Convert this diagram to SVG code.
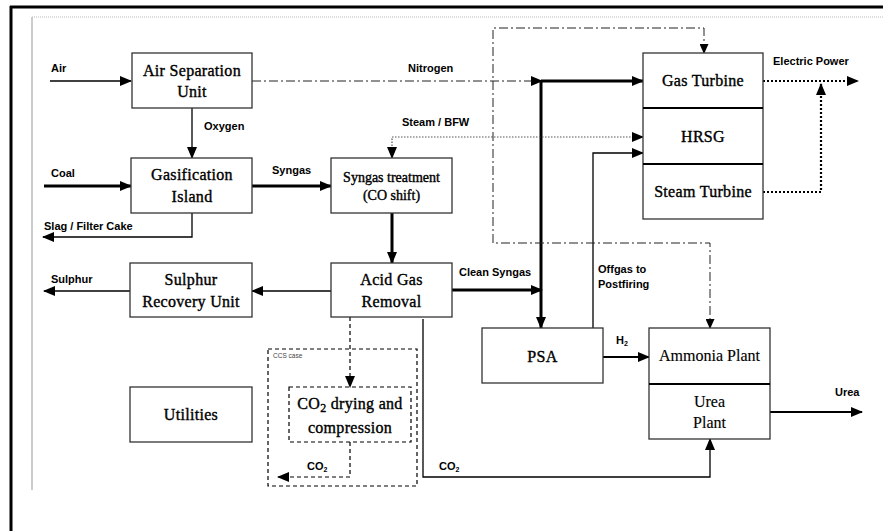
<svg xmlns="http://www.w3.org/2000/svg" width="883" height="531" viewBox="0 0 883 531">
<style>
.box{fill:#fff;stroke:#333;stroke-width:1.3}
.dbox{fill:none;stroke:#000;stroke-width:1.2;stroke-dasharray:4,3}
.rt{font-family:"Liberation Serif","Times New Roman",serif;font-size:16px;fill:#000;stroke:#000;stroke-width:0.15;text-anchor:middle}
.lb{font-family:"Liberation Sans",Arial,sans-serif;font-weight:bold;font-size:11px;fill:#000}
.ln{fill:none;stroke:#000}
.t1{stroke-width:1.3}
.t2{stroke-width:2}
.t3{stroke-width:3}
.dd{stroke:#222;stroke-width:1;stroke-dasharray:9,3,2,3}
.dt{stroke:#555;stroke-width:1.2;stroke-dasharray:1.5,1.5}
.dtb{stroke:#000;stroke-width:2.2;stroke-dasharray:2,2}
.ds{stroke:#000;stroke-width:1.2;stroke-dasharray:4,3}
</style>
<defs>
<marker id="ah" viewBox="0 0 12 10" refX="11" refY="5" markerWidth="12" markerHeight="10" markerUnits="userSpaceOnUse" orient="auto-start-reverse"><path d="M0,0L12,5L0,10z" fill="#000"/></marker>
<marker id="as" viewBox="0 0 10 9" refX="9" refY="4.5" markerWidth="10" markerHeight="9" markerUnits="userSpaceOnUse" orient="auto-start-reverse"><path d="M0,0L10,4.5L0,9z" fill="#000"/></marker>
</defs>

<g id="frame">
<line x1="10" y1="7" x2="883" y2="7" stroke="#000" stroke-width="3"/>
<line x1="11" y1="6" x2="11" y2="531" stroke="#000" stroke-width="3"/>
<line x1="32" y1="17" x2="883" y2="17" stroke="#bbb" stroke-width="1" stroke-dasharray="1,1"/>
<line x1="32" y1="17" x2="32" y2="490" stroke="#bbb" stroke-width="1.5"/>
</g>

<g id="connectors">
<path class="ln t1" d="M50,81H131" marker-end="url(#ah)"/>
<path class="ln t1" d="M192,108V158" marker-end="url(#ah)"/>
<path class="ln t3" d="M44,186H131" marker-end="url(#ah)"/>
<path class="ln t1" d="M192,213V237H43" marker-end="url(#ah)"/>
<path class="ln t3" d="M252,186H331" marker-end="url(#ah)"/>
<path class="ln t3" d="M392,213V263" marker-end="url(#ah)"/>
<path class="ln t1" d="M331,291H252" marker-end="url(#ah)"/>
<path class="ln t1" d="M130,291H44" marker-end="url(#ah)"/>
<path class="ln t3" d="M452,290H542" marker-end="url(#ah)"/>
<path class="ln dd" d="M252,81H542" marker-end="url(#ah)"/>
<path class="ln t3" d="M541,81H643" marker-end="url(#ah)"/>
<path class="ln t3" d="M541,80V328" marker-end="url(#ah)"/>
<path class="ln dt" d="M392,158V137H643" marker-start="url(#ah)" marker-end="url(#ah)"/>
<path class="ln t1" d="M593,328V153H643" stroke-width="1" marker-end="url(#ah)"/>
<path class="ln dd" d="M704,53V28H493V243H710V328" stroke="#444" marker-start="url(#as)" marker-end="url(#as)"/>
<path class="ln dtb" d="M763,81H858" marker-end="url(#ah)"/>
<path class="ln dtb" d="M763,192H821V84" marker-end="url(#ah)"/>
<path class="ln t2" d="M603,357H649" marker-end="url(#ah)"/>
<path class="ln t2" d="M770,412H862" marker-end="url(#ah)"/>
<path class="ln t1" d="M423,319V477H710V439" stroke="#333" marker-end="url(#ah)"/>
<path class="ln ds" d="M350,317V387" marker-end="url(#ah)"/>
<path class="ln ds" d="M350,442V477H278" marker-end="url(#ah)"/>
</g>

<g id="labels">
<text class="lb" x="51" y="72">Air</text>
<text class="lb" x="204" y="130">Oxygen</text>
<text class="lb" x="51" y="177">Coal</text>
<text class="lb" x="44" y="230">Slag / Filter Cake</text>
<text class="lb" x="272" y="174">Syngas</text>
<text class="lb" x="408" y="72">Nitrogen</text>
<text class="lb" x="402" y="126">Steam / BFW</text>
<text class="lb" x="773" y="65">Electric Power</text>
<text class="lb" x="51" y="283">Sulphur</text>
<text class="lb" x="459" y="276">Clean Syngas</text>
<text class="lb" x="598" y="273">Offgas to</text>
<text class="lb" x="598" y="288">Postfiring</text>
<text class="lb" x="616" y="344">H<tspan font-size="7" dy="2">2</tspan></text>
<text class="lb" x="835" y="396">Urea</text>
<text class="lb" x="439" y="470">CO<tspan font-size="7" dy="2">2</tspan></text>
<text class="lb" x="307" y="470">CO<tspan font-size="7" dy="2">2</tspan></text>
</g>

<g id="ccs-case">
<rect class="dbox" x="268" y="349" width="149" height="137"/>
<text x="273" y="358" font-family="'Liberation Sans',Arial,sans-serif" font-size="6.5" fill="#444">CCS case</text>
</g>

<g font-family="'Liberation Serif','Times New Roman',serif" font-size="16" letter-spacing="0.3" fill="#000" stroke="#000" stroke-width="0.38" text-anchor="middle">
<g id="asu">
<rect class="box" x="132" y="53" width="120" height="55"/>
<text x="192" y="76">Air Separation</text>
<text x="192" y="97">Unit</text>
</g>
<g id="gasification">
<rect class="box" x="131" y="158" width="121" height="55"/>
<text x="192" y="180">Gasification</text>
<text x="192" y="202">Island</text>
</g>
<g id="syngas-treatment">
<rect class="box" x="331" y="158" width="121" height="55"/>
<text x="391.5" y="182" font-size="14" letter-spacing="0">Syngas treatment</text>
<text x="391.5" y="200" font-size="14" letter-spacing="0">(CO shift)</text>
</g>
<g id="power-block">
<rect class="box" x="643" y="53" width="120" height="166"/>
<line x1="643" y1="108" x2="763" y2="108" stroke="#000" stroke-width="2"/>
<line x1="643" y1="164" x2="763" y2="164" stroke="#000" stroke-width="2"/>
<text x="703" y="86">Gas Turbine</text>
<text x="703" y="142">HRSG</text>
<text x="703" y="197">Steam Turbine</text>
</g>
<g id="sru">
<rect class="box" x="130" y="263" width="122" height="54"/>
<text x="191" y="285">Sulphur</text>
<text x="191" y="307">Recovery Unit</text>
</g>
<g id="agr">
<rect class="box" x="331" y="263" width="121" height="54"/>
<text x="391.5" y="285">Acid Gas</text>
<text x="391.5" y="307">Removal</text>
</g>
<g id="psa">
<rect class="box" x="482" y="328" width="121" height="55"/>
<text x="542.5" y="362">PSA</text>
</g>
<g id="utilities">
<rect class="box" x="130" y="387" width="122" height="55"/>
<text x="191" y="420">Utilities</text>
</g>
<g id="co2-drying">
<rect class="dbox" x="289" y="387" width="122" height="55"/>
<text x="350" y="409">CO<tspan font-size="12" dy="3">2</tspan><tspan dy="-3"> drying and</tspan></text>
<text x="350" y="433">compression</text>
</g>
</g>
<g id="ammonia-urea">
<rect class="box" x="649" y="328" width="121" height="111"/>
<line x1="649" y1="384" x2="770" y2="384" stroke="#000" stroke-width="2"/>
<text class="rt" x="709.5" y="361">Ammonia Plant</text>
<text class="rt" x="709.5" y="407">Urea</text>
<text class="rt" x="709.5" y="428">Plant</text>
</g>
</svg>
